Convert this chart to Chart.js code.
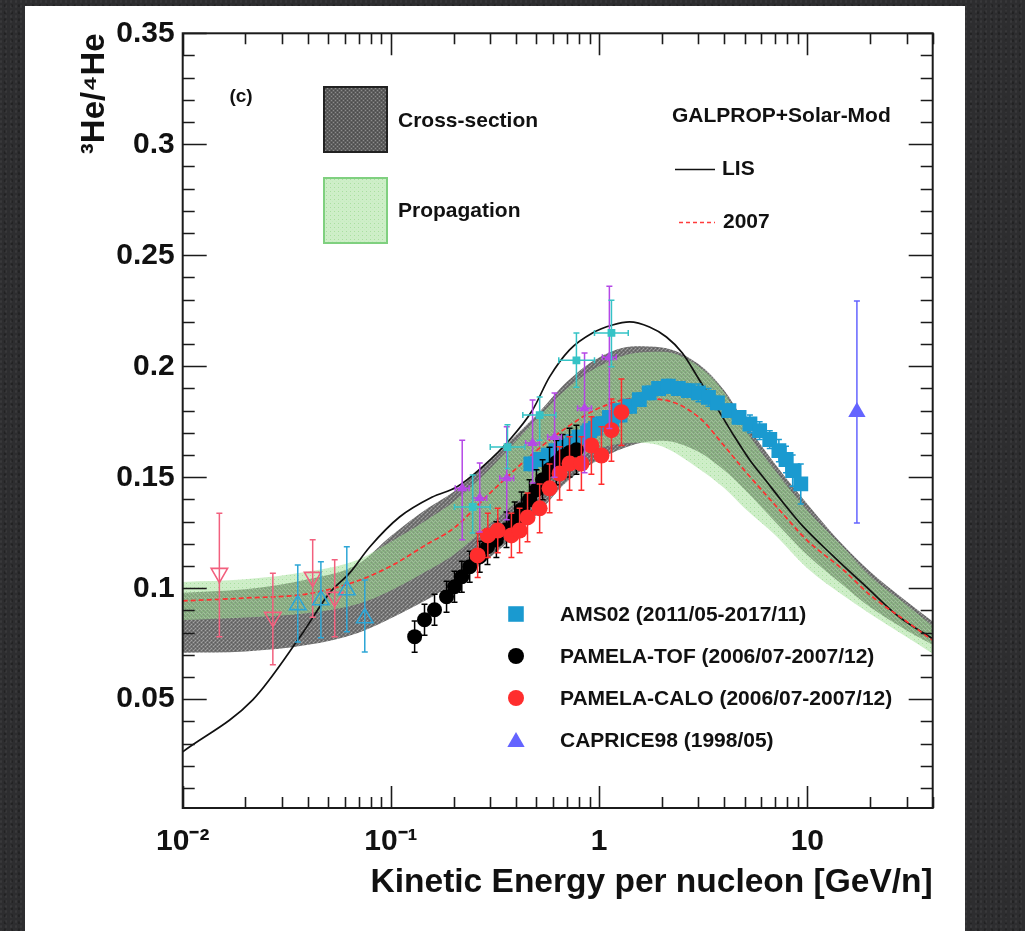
<!DOCTYPE html>
<html>
<head>
<meta charset="utf-8">
<script src="https://cdn.jsdelivr.net/npm/chart.js@4.4.1/dist/chart.umd.min.js"></script>
<style>
  html, body { margin: 0; padding: 0; width: 1025px; height: 931px; overflow: hidden;
    background-color: #2d2d2f;
    background-image:
      radial-gradient(circle at 20% 30%, rgba(255,255,255,0.05) 0 1px, transparent 1.5px),
      radial-gradient(circle at 70% 80%, rgba(0,0,0,0.25) 0 1px, transparent 1.5px);
    background-size: 5px 5px, 7px 7px; }
  #panel { position: absolute; left: 25px; top: 6px; width: 940px; height: 925px; background: #ffffff; }
  canvas { display: block; }
</style>
</head>
<body>
<div id="panel"><canvas id="ratio" width="940" height="925"></canvas></div>
<script>
// ---------------- model curves (energy grid shared by the bands) ----------------
const modelE   = [0.01, 0.02, 0.04, 0.07, 0.1, 0.15, 0.2, 0.3, 0.5, 0.7, 1.0, 1.5, 2, 3, 4, 5, 7, 10, 15, 20, 30, 40];
const mod2007  = [0.0943, 0.0956, 0.0975, 0.1035, 0.1100, 0.1200, 0.1270, 0.1430, 0.1620, 0.1725, 0.1812, 0.1855, 0.1850, 0.1772, 0.1640, 0.1530, 0.1375, 0.1215, 0.1080, 0.0970, 0.0850, 0.0765];
const propHigh = [0.1028, 0.1040, 0.1075, 0.1130, 0.1210, 0.1310, 0.1390, 0.1540, 0.1760, 0.1900, 0.2000, 0.2060, 0.2065, 0.2000, 0.1880, 0.1720, 0.1530, 0.1350, 0.1180, 0.1055, 0.0925, 0.0830];
const propLow  = [0.0857, 0.0868, 0.0888, 0.0930, 0.0990, 0.1080, 0.1150, 0.1290, 0.1460, 0.1560, 0.1630, 0.1655, 0.1640, 0.1540, 0.1450, 0.1360, 0.1240, 0.1090, 0.0965, 0.0885, 0.0780, 0.0705];
const xsecHigh = [0.0980, 0.0995, 0.1040, 0.1110, 0.1235, 0.1360, 0.1435, 0.1580, 0.1780, 0.1930, 0.2040, 0.2090, 0.2085, 0.2010, 0.1890, 0.1750, 0.1560, 0.1380, 0.1190, 0.1075, 0.0940, 0.0850];
const xsecLow  = [0.0709, 0.0715, 0.0745, 0.0800, 0.0865, 0.0950, 0.1020, 0.1140, 0.1330, 0.1480, 0.1580, 0.1650, 0.1665, 0.1615, 0.1530, 0.1445, 0.1300, 0.1150, 0.1010, 0.0915, 0.0810, 0.0745];

// interstellar (LIS) ratio
const lisE = [0.01, 0.0217, 0.0366, 0.0508, 0.0634, 0.0791, 0.110, 0.158, 0.207, 0.275, 0.371, 0.479, 0.578, 0.721, 0.929, 1.159, 1.40, 1.745, 2.105, 2.51, 3.03, 3.66, 4.36, 5.27, 6.36, 7.59, 9.46, 13.2, 19.2, 27.6, 40];
const lisR = [0.0263, 0.0497, 0.0781, 0.0979, 0.1069, 0.1186, 0.1321, 0.1411, 0.1456, 0.1547, 0.1668, 0.1803, 0.1952, 0.2074, 0.2150, 0.2186, 0.2200, 0.2177, 0.2132, 0.2060, 0.1938, 0.1816, 0.1699, 0.1580, 0.1482, 0.1390, 0.1282, 0.1148, 0.1006, 0.0871, 0.0772];

// ---------------- measurements ----------------
const amsE   = [0.47, 0.52, 0.57, 0.62, 0.68, 0.74, 0.81, 0.88, 0.96, 1.05, 1.15, 1.26,
                0.80, 0.90, 1.00, 1.12, 1.25, 1.40, 1.56, 1.74, 1.93, 2.15, 2.40, 2.68, 3.00, 3.35,
                3.70, 4.20, 4.70, 5.30, 5.90, 6.60, 7.30, 7.90, 8.50, 9.30];
const amsR   = [0.156, 0.158, 0.160, 0.162, 0.164, 0.166, 0.168, 0.170, 0.172, 0.174, 0.176, 0.178,
                0.168, 0.171, 0.174, 0.177, 0.180, 0.182, 0.185, 0.188, 0.190, 0.191, 0.190, 0.189, 0.188, 0.186,
                0.1835, 0.180, 0.177, 0.174, 0.171, 0.167, 0.162, 0.158, 0.153, 0.147];
const amsErr = [0.003, 0.003, 0.003, 0.003, 0.003, 0.003, 0.003, 0.003, 0.003, 0.003, 0.003, 0.003,
                0.003, 0.003, 0.003, 0.003, 0.003, 0.003, 0.003, 0.003, 0.003, 0.003, 0.003, 0.003, 0.004, 0.004,
                0.003, 0.003, 0.003, 0.004, 0.004, 0.004, 0.005, 0.006, 0.007, 0.009];

const tofE   = [0.130, 0.145, 0.162, 0.185, 0.202, 0.219, 0.239, 0.267, 0.291, 0.321, 0.359, 0.393, 0.424, 0.463, 0.500, 0.535, 0.578, 0.623, 0.667, 0.721, 0.778];
const tofR   = [0.0782, 0.0858, 0.0903, 0.0962, 0.1007, 0.1052, 0.1097, 0.1142, 0.1187, 0.1219, 0.1264, 0.1309, 0.1354, 0.1399, 0.1444, 0.1489, 0.1535, 0.1566, 0.1593, 0.1611, 0.1624];
const tofErr = [0.007, 0.007, 0.007, 0.007, 0.007, 0.007, 0.007, 0.007, 0.008, 0.008, 0.008, 0.008, 0.008, 0.009, 0.009, 0.009, 0.010, 0.010, 0.010, 0.011, 0.011];

const caloE   = [0.261, 0.292, 0.326, 0.379, 0.415, 0.453, 0.518, 0.578, 0.646, 0.721, 0.822, 0.918, 1.026, 1.146, 1.280];
const caloR   = [0.1148, 0.1238, 0.1260, 0.1238, 0.1260, 0.1319, 0.1360, 0.1450, 0.1517, 0.1562, 0.1562, 0.1643, 0.1598, 0.1712, 0.1793];
const caloErr = [0.010, 0.010, 0.010, 0.010, 0.010, 0.011, 0.011, 0.011, 0.012, 0.012, 0.012, 0.013, 0.013, 0.014, 0.015];

const capriceE = [17.3];
const capriceR = [0.1794];
const capriceErr = [0.050];

// other balloon / satellite points
const violetE  = [0.220, 0.267, 0.360, 0.479, 0.611, 0.851, 1.12];
const violetR  = [0.1451, 0.1406, 0.1496, 0.1654, 0.1681, 0.1811, 0.2041];
const violetHi = [0.1667, 0.1564, 0.1727, 0.1848, 0.1880, 0.2060, 0.2360];
const violetLo = [0.1219, 0.1253, 0.1309, 0.1474, 0.1500, 0.1520, 0.1720];

const tealE   = [0.247, 0.363, 0.518, 0.778, 1.146];
const tealR   = [0.1366, 0.1636, 0.1780, 0.2027, 0.2150];
const tealHi  = [0.1510, 0.1736, 0.1862, 0.2150, 0.2297];
const tealLo  = [0.1249, 0.1540, 0.1667, 0.1906, 0.1998];
const tealElo = [0.202, 0.300, 0.430, 0.640, 0.950];
const tealEhi = [0.300, 0.440, 0.620, 0.950, 1.380];

const pinkE  = [0.0150, 0.0271, 0.0421, 0.0537];
const pinkR  = [0.1068, 0.0870, 0.1050, 0.0960];
const pinkHi = [0.1338, 0.1068, 0.1218, 0.1128];
const pinkLo = [0.0782, 0.0655, 0.0869, 0.0782];

const skyE  = [0.0357, 0.0461, 0.0614, 0.0749];
const skyR  = [0.0925, 0.0947, 0.0992, 0.0866];
const skyHi = [0.1105, 0.1119, 0.1187, 0.1037];
const skyLo = [0.0758, 0.0777, 0.0804, 0.0713];

// ---------------- axes ----------------
const xTickValues = [0.01, 0.1, 1, 10];
const xTickLabels = ['10\u207B\u00B2', '10\u207B\u00B9', '1', '10'];
const yTickValues = [0.05, 0.1, 0.15, 0.2, 0.25, 0.3, 0.35];
const yTickLabels = ['0.05', '0.1', '0.15', '0.2', '0.25', '0.3', '0.35'];

const FONT = '"Liberation Sans", Arial, Helvetica, sans-serif';
Chart.defaults.font.family = FONT;
Chart.defaults.color = '#111';

const pts = (xs, ys) => xs.map((x, i) => ({ x, y: ys[i] }));

function makePattern(base, dots, size) {
  const c = document.createElement('canvas');
  c.width = size; c.height = size;
  const g = c.getContext('2d');
  g.fillStyle = base; g.fillRect(0, 0, size, size);
  dots.forEach(([col, x, y]) => { g.fillStyle = col; g.fillRect(x, y, 1, 1); });
  return g.createPattern(c, 'repeat');
}
const ctx0 = document.getElementById('ratio').getContext('2d');
const xsecFill = makePattern('#747474', [['#a3a3a3', 0, 0], ['#a3a3a3', 2, 2], ['#5c5c5c', 2, 0], ['#5c5c5c', 0, 2], ['#929292', 1, 3]], 4);
const xsecKey  = makePattern('#5e5e5e', [['#8c8c8c', 0, 0], ['#8c8c8c', 2, 2], ['#4a4a4a', 2, 0], ['#4a4a4a', 0, 2]], 4);
const propFill = makePattern('rgba(158,222,146,0.50)', [['rgba(140,212,128,0.55)', 1, 1], ['rgba(185,235,175,0.45)', 3, 3]], 4);

// error bars drawn underneath each dataset's markers
const errorBars = {
  id: 'errorBars',
  beforeDatasetDraw(chart, args) {
    const ds = chart.data.datasets[args.index];
    if (!ds.errHi && !ds.xLo) return;
    const { ctx, chartArea: a, scales: { x, y } } = chart;
    ctx.save();
    ctx.beginPath(); ctx.rect(a.left, a.top, a.right - a.left, a.bottom - a.top); ctx.clip();
    ctx.strokeStyle = ds.errColor || ds.backgroundColor;
    ctx.lineWidth = ds.errWidth || 1.5;
    const cap = ds.capWidth == null ? 3 : ds.capWidth;
    ds.data.forEach((p, i) => {
      const px = x.getPixelForValue(p.x);
      const py = y.getPixelForValue(p.y);
      ctx.beginPath();
      if (ds.errHi) {
        const yh = y.getPixelForValue(ds.errHi[i]);
        const yl = y.getPixelForValue(ds.errLo[i]);
        ctx.moveTo(px, yh); ctx.lineTo(px, yl);
        if (cap > 0) {
          ctx.moveTo(px - cap, yh); ctx.lineTo(px + cap, yh);
          ctx.moveTo(px - cap, yl); ctx.lineTo(px + cap, yl);
        }
      }
      if (ds.xLo) {
        const xl = x.getPixelForValue(ds.xLo[i]);
        const xh = x.getPixelForValue(ds.xHi[i]);
        ctx.moveTo(xl, py); ctx.lineTo(xh, py);
        if (cap > 0) {
          ctx.moveTo(xl, py - cap); ctx.lineTo(xl, py + cap);
          ctx.moveTo(xh, py - cap); ctx.lineTo(xh, py + cap);
        }
      }
      ctx.stroke();
    });
    ctx.restore();
  }
};

// frame with inward ticks on all four sides
const frame = {
  id: 'frame',
  afterDatasetsDraw(chart) {
    const { ctx, chartArea: a, scales: { x, y } } = chart;
    ctx.save();
    ctx.strokeStyle = '#1b1b1b';
    ctx.lineWidth = 1.6;
    ctx.beginPath();
    for (let d = -2; d <= 1; d++) {
      for (let m = 1; m <= 9; m++) {
        const v = m * Math.pow(10, d);
        if (v < x.min || v > x.max) continue;
        const px = Math.round(x.getPixelForValue(v)) + 0.5;
        const len = m === 1 ? 22 : 11;
        ctx.moveTo(px, a.bottom); ctx.lineTo(px, a.bottom - len);
        ctx.moveTo(px, a.top); ctx.lineTo(px, a.top + len);
      }
    }
    for (let k = 1; k <= 35; k++) {
      const v = k / 100;
      const py = Math.round(y.getPixelForValue(v)) + 0.5;
      const len = k % 5 === 0 ? 24 : 12;
      ctx.moveTo(a.left, py); ctx.lineTo(a.left + len, py);
      ctx.moveTo(a.right, py); ctx.lineTo(a.right - len, py);
    }
    ctx.stroke();
    ctx.lineWidth = 2;
    ctx.strokeRect(a.left, a.top, a.right - a.left, a.bottom - a.top);
    ctx.restore();
  }
};

// legends and panel label
const keys = {
  id: 'keys',
  afterDraw(chart) {
    const { ctx } = chart;
    const H = Chart.helpers;
    ctx.save();
    ctx.textBaseline = 'middle';
    ctx.fillStyle = '#111';

    ctx.font = 'bold 19px ' + FONT;
    ctx.textAlign = 'center';
    ctx.fillText('(c)', 216, 91);
    ctx.textAlign = 'left';

    // uncertainty bands
    ctx.fillStyle = xsecKey;
    ctx.fillRect(299, 81, 63, 65);
    ctx.strokeStyle = '#222'; ctx.lineWidth = 2;
    ctx.strokeRect(299, 81, 63, 65);
    ctx.fillStyle = propFill;
    ctx.fillRect(299, 172, 63, 65);
    ctx.strokeStyle = '#7fd07f'; ctx.lineWidth = 2;
    ctx.strokeRect(299, 172, 63, 65);

    ctx.fillStyle = '#111';
    ctx.font = 'bold 21px ' + FONT;
    ctx.fillText('Cross-section', 373, 115);
    ctx.fillText('Propagation', 373, 205);

    // model curves
    ctx.fillText('GALPROP+Solar-Mod', 647, 110);
    ctx.strokeStyle = '#111'; ctx.lineWidth = 1.6;
    ctx.beginPath(); ctx.moveTo(650, 163.5); ctx.lineTo(690, 163.5); ctx.stroke();
    ctx.fillText('LIS', 697, 163);
    ctx.strokeStyle = '#ff3b3b'; ctx.setLineDash([4, 3]);
    ctx.beginPath(); ctx.moveTo(654, 216.5); ctx.lineTo(690, 216.5); ctx.stroke();
    ctx.setLineDash([]);
    ctx.fillText('2007', 698, 216);

    // measurements
    const rows = [
      { label: 'AMS02 (2011/05-2017/11)', style: 'rect', r: 11, color: '#1a9ad0', y: 608 },
      { label: 'PAMELA-TOF (2006/07-2007/12)', style: 'circle', r: 8, color: '#000000', y: 650 },
      { label: 'PAMELA-CALO (2006/07-2007/12)', style: 'circle', r: 8, color: '#ff2d2d', y: 692 },
      { label: 'CAPRICE98 (1998/05)', style: 'triangle', r: 10, color: '#6464ff', y: 734 }
    ];
    rows.forEach(rw => {
      ctx.fillStyle = rw.color;
      H.drawPoint(ctx, { pointStyle: rw.style, radius: rw.r, rotation: 0, borderWidth: 0 }, 491, rw.y + (rw.style === 'triangle' ? 2 : 0));
      ctx.fillStyle = '#111';
      ctx.fillText(rw.label, 535, rw.y + 1);
    });
    ctx.restore();
  }
};

const datasets = [
  { label: 'xsecHigh', data: pts(modelE, xsecHigh), fill: '+1', backgroundColor: xsecFill, borderWidth: 0, pointRadius: 0, cubicInterpolationMode: 'monotone', order: 20 },
  { label: 'xsecLow',  data: pts(modelE, xsecLow), fill: false, borderWidth: 0, pointRadius: 0, cubicInterpolationMode: 'monotone', order: 20 },
  { label: 'propHigh', data: pts(modelE, propHigh), fill: '+1', backgroundColor: propFill, borderWidth: 0, pointRadius: 0, cubicInterpolationMode: 'monotone', order: 19 },
  { label: 'propLow',  data: pts(modelE, propLow), fill: false, borderWidth: 0, pointRadius: 0, cubicInterpolationMode: 'monotone', order: 19 },
  { label: 'LIS', data: pts(lisE, lisR), borderColor: '#111', borderWidth: 1.7, pointRadius: 0, fill: false, cubicInterpolationMode: 'monotone', order: 18 },
  { label: '2007', data: pts(modelE, mod2007), borderColor: '#ff3030', borderWidth: 1.7, borderDash: [5, 3], pointRadius: 0, fill: false, cubicInterpolationMode: 'monotone', order: 17 },
  { label: 'low-E down', data: pts(pinkE, pinkR), showLine: false, pointStyle: 'triangle', rotation: 180, pointRadius: 9.5,
    backgroundColor: 'rgba(0,0,0,0)', borderColor: '#f2607e', pointBorderWidth: 1.6, errHi: pinkHi, errLo: pinkLo, errColor: '#f2607e', order: 16 },
  { label: 'low-E up', data: pts(skyE, skyR), showLine: false, pointStyle: 'triangle', pointRadius: 9.5,
    backgroundColor: 'rgba(0,0,0,0)', borderColor: '#2ea6d6', pointBorderWidth: 1.6, errHi: skyHi, errLo: skyLo, errColor: '#2ea6d6', order: 15 },
  { label: 'AMS02', data: pts(amsE, amsR), showLine: false, pointStyle: 'rect', pointRadius: 10.5, backgroundColor: '#1a9ad0', borderWidth: 0,
    errHi: amsR.map((v, i) => v + amsErr[i]), errLo: amsR.map((v, i) => v - amsErr[i]), errColor: '#1a9ad0', order: 14 },
  { label: 'PAMELA-TOF', data: pts(tofE, tofR), showLine: false, pointStyle: 'circle', pointRadius: 7.5, backgroundColor: '#000', borderWidth: 0,
    errHi: tofR.map((v, i) => v + tofErr[i]), errLo: tofR.map((v, i) => v - tofErr[i]), errColor: '#000', order: 13 },
  { label: 'PAMELA-CALO', data: pts(caloE, caloR), showLine: false, pointStyle: 'circle', pointRadius: 8, backgroundColor: '#ff2d2d', borderWidth: 0,
    errHi: caloR.map((v, i) => v + caloErr[i]), errLo: caloR.map((v, i) => v - caloErr[i]), errColor: '#ff2d2d', order: 12 },
  { label: 'violet', data: pts(violetE, violetR), showLine: false, pointStyle: 'triangle', pointRadius: 6, backgroundColor: '#b548e6', borderWidth: 0,
    errHi: violetHi, errLo: violetLo, xLo: violetE.map(e => e / 1.08), xHi: violetE.map(e => e * 1.08), errColor: '#b548e6', capWidth: 3, order: 11 },
  { label: 'teal', data: pts(tealE, tealR), showLine: false, pointStyle: 'rect', pointRadius: 5.5, backgroundColor: '#35c3c6', borderWidth: 0,
    errHi: tealHi, errLo: tealLo, xLo: tealElo, xHi: tealEhi, errColor: '#35c3c6', capWidth: 3, order: 10 },
  { label: 'CAPRICE98', data: pts(capriceE, capriceR), showLine: false, pointStyle: 'triangle', pointRadius: 10, backgroundColor: '#6464ff', borderWidth: 0,
    errHi: capriceR.map((v, i) => v + capriceErr[i]), errLo: capriceR.map((v, i) => v - capriceErr[i]), errColor: '#6464ff', capWidth: 3, order: 9 }
];

new Chart(ctx0, {
  type: 'line',
  data: { datasets },
  options: {
    responsive: false,
    animation: false,
    events: [],
    layout: { padding: { left: 0, top: 27.3, right: 32.3, bottom: 0 } },
    plugins: { legend: { display: false }, tooltip: { enabled: false }, filler: { propagate: false } },
    scales: {
      x: {
        type: 'logarithmic', min: 0.01, max: 40,
        grid: { display: false, drawTicks: false },
        border: { display: false },
        afterBuildTicks: s => { s.ticks = xTickValues.map(v => ({ value: v })); },
        afterFit: s => { s.height = 123; },
        ticks: { autoSkip: false, maxRotation: 0, padding: 16, color: '#111',
                 font: { size: 30, weight: 'bold', lineHeight: 1.2 },
                 callback: (v, i) => xTickLabels[i] },
        title: { display: true, text: 'Kinetic Energy per nucleon [GeV/n]', align: 'end', color: '#111',
                 font: { size: 33.5, weight: 'bold', lineHeight: 1.2 }, padding: { top: 0, bottom: 28 } }
      },
      y: {
        type: 'linear', min: 0.001, max: 0.35,
        grid: { display: false, drawTicks: false },
        border: { display: false },
        afterBuildTicks: s => { s.ticks = yTickValues.map(v => ({ value: v })); },
        afterFit: s => { s.width = 157.7; },
        ticks: { autoSkip: false, padding: 8, color: '#111',
                 font: { size: 30, weight: 'bold', lineHeight: 1.2 },
                 callback: (v, i) => yTickLabels[i] },
        title: { display: true, text: '\u00B3He/\u2074He', align: 'end', color: '#111',
                 font: { size: 33, weight: 'bold', lineHeight: 1.2 }, padding: { top: 50, bottom: 0 } }
      }
    }
  },
  plugins: [errorBars, frame, keys]
});
</script>
</body>
</html>
